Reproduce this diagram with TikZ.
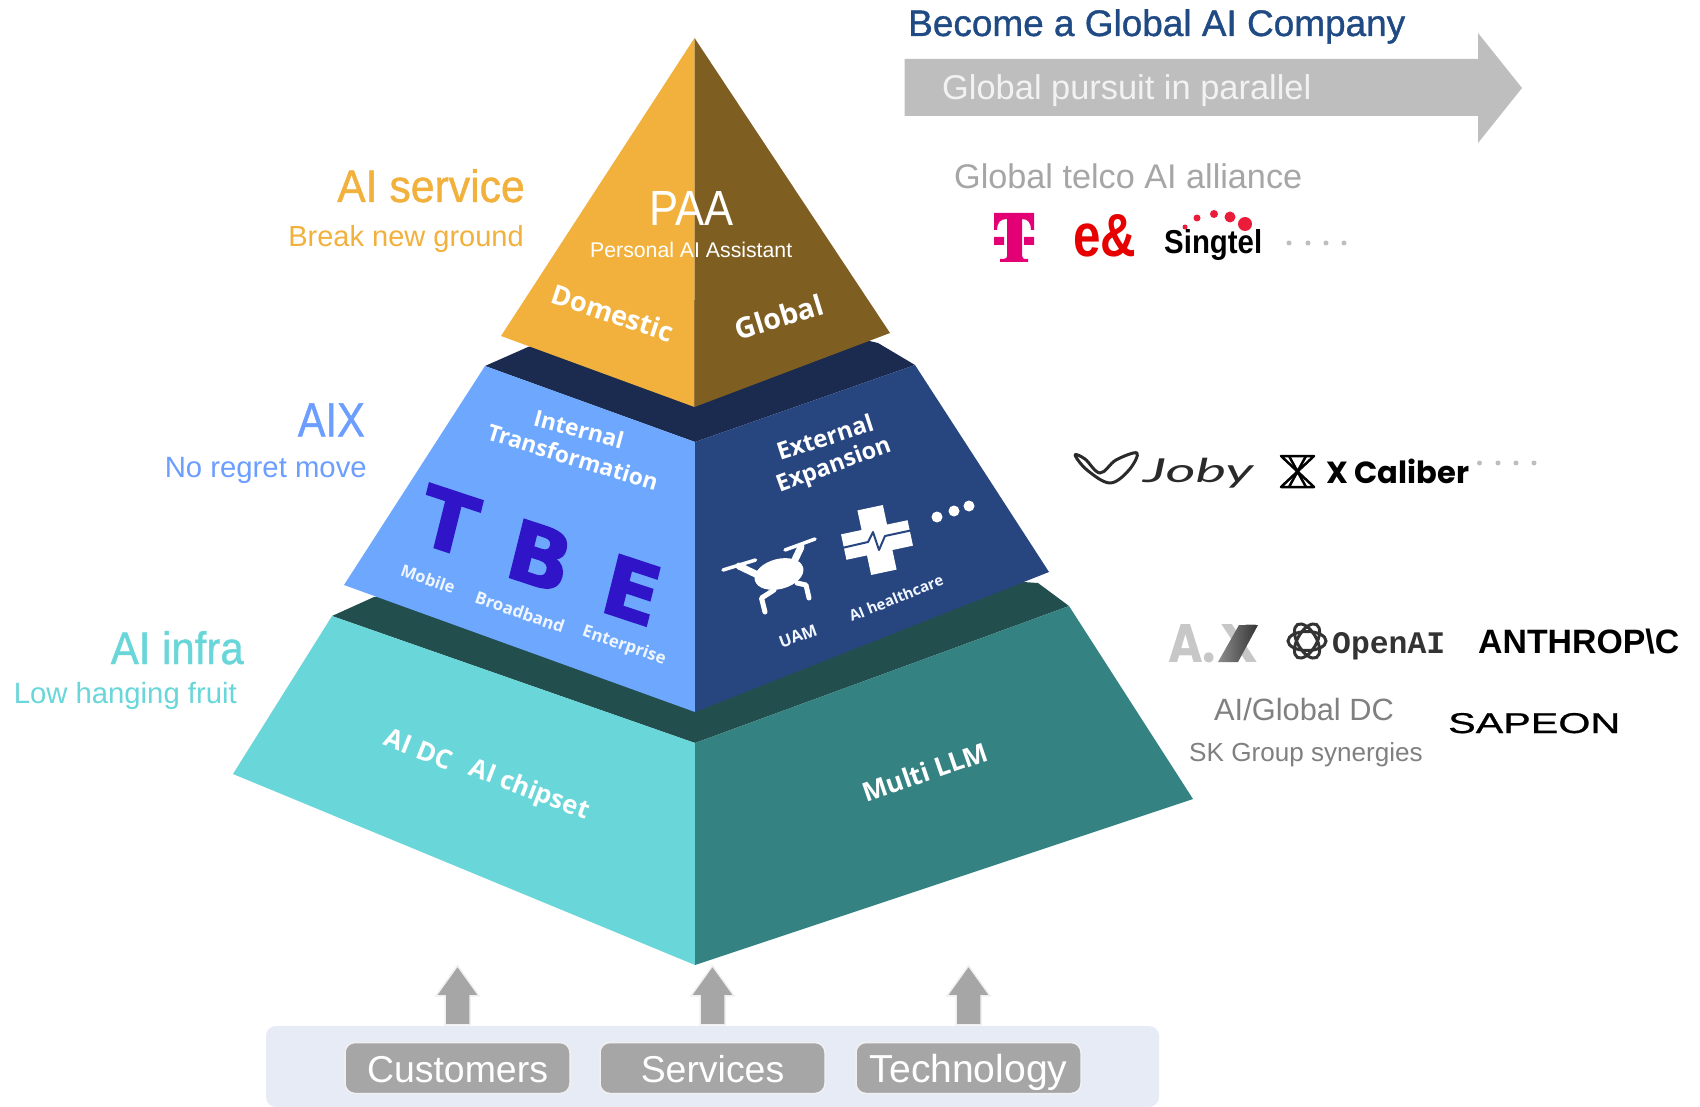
\documentclass[tikz,border=0pt]{standalone}
\usepackage{graphicx}
\usepackage{fontspec}
\setmainfont{Liberation Sans}
\newfontfamily\medf[FakeBold=1]{Liberation Sans}
\newfontfamily\sapf[FakeBold=0.7]{Liberation Sans}
\newfontfamily\opsb{Open Sans}
\newfontfamily\dvsh[FakeBold=1.6]{DejaVu Sans}
\newfontfamily\popf{Poppins}
\newfontfamily\latof{Lato}
\newfontfamily\lmono{Liberation Mono}
\definecolor{cOr}{HTML}{F2B13C}
\definecolor{cBr}{HTML}{7F5E22}
\definecolor{cNavy}{HTML}{1A2B4F}
\definecolor{cLb}{HTML}{6EA8FE}
\definecolor{cDb}{HTML}{27457F}
\definecolor{cGb}{HTML}{224F4E}
\definecolor{cTe}{HTML}{69D6D9}
\definecolor{cDt}{HTML}{358283}
\definecolor{cIn}{HTML}{2F14C8}
\definecolor{cTitle}{HTML}{1F4A84}
\definecolor{cAr}{HTML}{BEBEBE}
\definecolor{cBg}{HTML}{E7EBF6}
\definecolor{cBox}{HTML}{A6A6A6}
\definecolor{cAix}{HTML}{6C9EFF}
\definecolor{cSub}{HTML}{808080}
\definecolor{cMag}{HTML}{E20074}
\definecolor{cRed}{HTML}{E60000}
\definecolor{cSing}{HTML}{EB1C3A}
\newcommand\fw[2]{\resizebox{#1pt}{!}{#2}}
\newcommand\fwh[3]{\resizebox{#1pt}{#2pt}{#3}}
\newcommand\fwt[3]{\resizebox*{#1pt}{#2pt}{#3}}
\tikzset{
  tw/.style={inner sep=0pt,anchor=base west},
  te/.style={inner sep=0pt,anchor=base east},
  wbold/.style={inner sep=0pt,anchor=center,text=white,font=\opsb\bfseries},
  wsoft/.style={inner sep=0pt,anchor=center,text=white!90!cLb,font=\opsb\bfseries},
  srcbox/.style={fill=cBox,draw=white!94!black,line width=1.5pt,rounded corners=10pt,minimum width=225pt,minimum height=51pt,inner sep=0pt,text=white,text height=28pt,text depth=0pt},
  upa/.style={fill=cBox,draw=white!94!black,line width=1.5pt},
  dotg/.style={fill=cAr},
  bigL/.style={inner sep=0pt,anchor=center,text=cIn,font=\dvsh\bfseries\fontsize{80}{80}\selectfont,cm={1,-0.33,0.25,1,(0,0)}},
}
\newcommand\blockup[1]{\draw[upa] (#1.north) ++(-12.5,-17) -- ++(0,-29) -- ++(-9,0) -- ++(21.5,-30) -- ++(21.5,30) -- ++(-9,0) -- ++(0,29) -- cycle;}
\begin{document}
\begin{tikzpicture}[x=1pt,y=-1pt]
\useasboundingbox (0,0) rectangle (1700,1107);
\fill[white] (0,0) rectangle (1700,1107);
% --- bands
\fill[cGb] (332,616) -- (374,597) -- (695,560) -- (1038,583) -- (1069,606) -- (695,743) -- cycle;
\fill[cTe] (332,616) -- (695,743) -- (695,965) -- (233,774) -- cycle;
\fill[cDt] (1069,606) -- (695,743) -- (695,965) -- (1193,799) -- cycle;
\fill[cNavy] (485,366) -- (528,347) -- (695,300) -- (878,343) -- (915,365) -- (695,442) -- cycle;
\fill[cLb] (485,366) -- (695,442) -- (695,712) -- (344,585) -- cycle;
\fill[cDb] (915,365) -- (695,442) -- (695,712) -- (1049,572) -- cycle;
\fill[cOr] (694.5,38) -- (694.5,407) -- (501,336) -- cycle;
\fill[cBr] (694.5,38) -- (694.5,407) -- (890,333) -- cycle;
% --- pyramid text: top
\node[tw,text=white] (paa) at (649,226) {\fwh{84}{34}{PAA}};
\node[tw,text=white] (paasub) at (590,258) {\fw{202}{Personal AI Assistant}};
\node[wbold,rotate=-18.4] (dom) at (613,313) {\fw{127}{Domestic}};
\node[wbold,rotate=17] (glo) at (779,317) {\fw{91}{Global}};
% --- middle
\node[wbold,rotate=-15] (int) at (579,429) {\fw{92}{Internal}};
\node[wbold,rotate=-17] (tra) at (573,457) {\fw{177}{Transformation}};
\node[wbold,rotate=18] (ext) at (825,437) {\fw{100}{External}};
\node[wbold,rotate=20] (exp) at (834,466) {\fw{120}{Expansion}};
\node[bigL] (lT) at (449,521) {T};
\node[bigL] (lB) at (540,556) {B};
\node[bigL] (lE) at (632,590) {E};
\node[wsoft,rotate=-19] (mob) at (428,579) {\fw{56}{Mobile}};
\node[wsoft,rotate=-19] (bro) at (520,612) {\fw{93}{Broadband}};
\node[wsoft,rotate=-19] (ent) at (624,646) {\fw{87}{Enterprise}};
\node[wsoft,rotate=20] (uam) at (798,636) {\fw{39}{UAM}};
\node[wsoft,rotate=22] (hea) at (896,598) {\fw{100}{AI healthcare}};
% drone
\draw[white,line width=3.5pt,line cap=round] (723,570) -- (755.5,560);
\draw[white,line width=3.5pt,line cap=round] (785,550) -- (815,539);
\draw[white,line width=7pt,line cap=round] (739,566) -- (764,578);
\draw[white,line width=7pt,line cap=round] (801,547) -- (792,566);
\fill[white,rotate around={15:(779,574)}] (779,574) ellipse [x radius=25,y radius=15];
\draw[white,line width=5pt,line cap=round,line join=round] (774,590) -- (761.5,598) -- (765,612);
\draw[white,line width=5pt,line cap=round,line join=round] (797,583) -- (806,585) -- (809,598);
% cross
\node[fill=white,minimum width=68pt,minimum height=26pt,inner sep=0pt,rotate=12] (cr1) at (877,540) {};
\node[fill=white,minimum width=26pt,minimum height=66pt,inner sep=0pt,rotate=12] (cr2) at (877,540) {};
\draw[cDb,line width=2pt,line join=round] (842,548) -- (868,542) -- (873,532) -- (879,550) -- (885,536) -- (913,530);
\fill[white] (937,517) circle (5.5) (954,511) circle (5.5) (969,506) circle (5.5);
% --- bottom
\node[wbold,rotate=-21.5] (aidc) at (419,749) {\fw{70}{AI DC}};
\node[wbold,rotate=-21] (aich) at (529,791) {\fw{126}{AI chipset}};
\node[wbold,rotate=19] (llm) at (925,772) {\fw{131}{Multi LLM}};
% --- left labels
\node[te,text=cOr] (l1) at (525,202) {\fwh{187.5}{33}{\medf AI service}};
\node[te,text=cOr] (l1b) at (524,247) {\fw{235.5}{Break new ground}};
\node[te,text=cAix] (l2) at (365,436.5) {\fwh{67}{33}{\medf AIX}};
\node[te,text=cAix] (l2b) at (367,477) {\fw{202}{No regret move}};
\node[te,text=cTe] (l3) at (244,664) {\fwh{133}{33}{\medf AI infra}};
\node[te,text=cTe] (l3b) at (237,703) {\fw{223}{Low hanging fruit}};
% --- top right
\node[tw,text=cTitle] (title) at (908,36) {\fw{497}{\medf Become a Global AI Company}};
\fill[cAr] (904.5,59) -- (1478,59) -- (1478,33) -- (1522,88) -- (1478,143) -- (1478,116) -- (904.5,116) -- cycle;
\node[tw,text=white!95!black] (pur) at (942,100) {\fw{369}{Global pursuit in parallel}};
\node[tw,text=cBox] (tel) at (954,189) {\fw{348}{Global telco AI alliance}};
% T-logo
\fill[cMag] (994,213) -- (1034,213) -- (1034,230) -- (1031,230) .. controls (1031,223) and (1028,219) .. (1022,219) -- (1022,256) .. controls (1022,259) and (1024,259) .. (1028,259) -- (1028,262) -- (1000,262) -- (1000,259) .. controls (1004,259) and (1007,259) .. (1007,256) -- (1007,219) .. controls (1000,219) and (997,223) .. (997,230) -- (994,230) -- cycle;
\fill[cMag] (994,237) rectangle (1004,245) (1024,237) rectangle (1034,245);
% e&
\node[tw,text=cRed] (eand) at (1073,257) {\fwh{63}{42}{\bfseries e\&}};
% Singtel
\node[tw,text=black] (sing) at (1164,254) {\fwt{98}{31}{\bfseries Singtel}};
\fill[cSing] (1185,227) circle (2.5) (1197,218) circle (3.5) (1214,214) circle (4) (1230,217) circle (5.5) (1245,224) circle (7);
\fill[dotg] (1289,243) circle (2.5) (1308,243) circle (2.5) (1326,243) circle (2.5) (1344,243) circle (2.5);
% --- Joby / X Caliber
\draw[black!75!cBox,line width=3pt,line join=round] plot[smooth cycle,tension=0.6] coordinates {(1075,455) (1087,470) (1110,483) (1129,470) (1137,453) (1116,460) (1100,473) (1085,459)};
\node[tw,text=black!75!cBox] (joby) at (1143,482) {\fwt{110}{30}{\latof\itshape Joby}};
\draw[black,line width=2.5pt,line join=round] (1281,456) -- (1314,456) -- (1281,487) -- (1314,487) -- cycle;
\draw[black,line width=2.5pt] (1289,456) -- (1306,487) (1306,456) -- (1289,487);
\node[tw,text=black] (xcal) at (1326,483) {\fw{143}{\popf\bfseries X Caliber}};
\fill[dotg] (1479.5,463) circle (2.5) (1498,463) circle (2.5) (1516,463) circle (2.5) (1534,463) circle (2.5);
% --- A.X
\node[tw,text=black!22] (ax) at (1168,662) {\fwh{48}{38}{\popf\bfseries A.}};
\node[tw,text=black!22] (axx) at (1220,662) {\fwh{38}{38}{\popf\bfseries X}};
\shade[left color=black!45,right color=black!80] (1218,662) -- (1239,625) -- (1258,625) -- (1238,662) -- cycle;
% --- OpenAI
\foreach \a in {0,60,120}{\draw[black!80,line width=3pt,rotate around={\a:(1307,641)}] (1307,641) ellipse [x radius=19,y radius=9.5];}
\node[tw,text=black!80] (oai) at (1332,653) {\fw{113}{\lmono\bfseries OpenAI}};
\node[tw,text=black] (ant) at (1478,653) {\fw{201}{\bfseries ANTHROP\textbackslash C}};
\node[tw,text=black] (sap) at (1448,733) {\fwh{172}{20}{\sapf SAPEON}};
\node[tw,text=cSub] (dc) at (1214,720) {\fw{179.6}{AI/Global DC}};
\node[tw,text=cSub] (syn) at (1189,761) {\fw{233.6}{SK Group synergies}};
% --- bottom panel
\fill[cBg,rounded corners=10pt] (266,1026) rectangle (1159,1107);
\node[srcbox] (cust) at (457.5,1068) {\fw{181}{Customers}};
\node[srcbox] (serv) at (712.5,1068) {\fw{143.5}{Services}};
\node[srcbox] (tech) at (968.5,1068) {\fw{197.5}{Technology}};
\blockup{cust}
\blockup{serv}
\blockup{tech}
\end{tikzpicture}
\end{document}
